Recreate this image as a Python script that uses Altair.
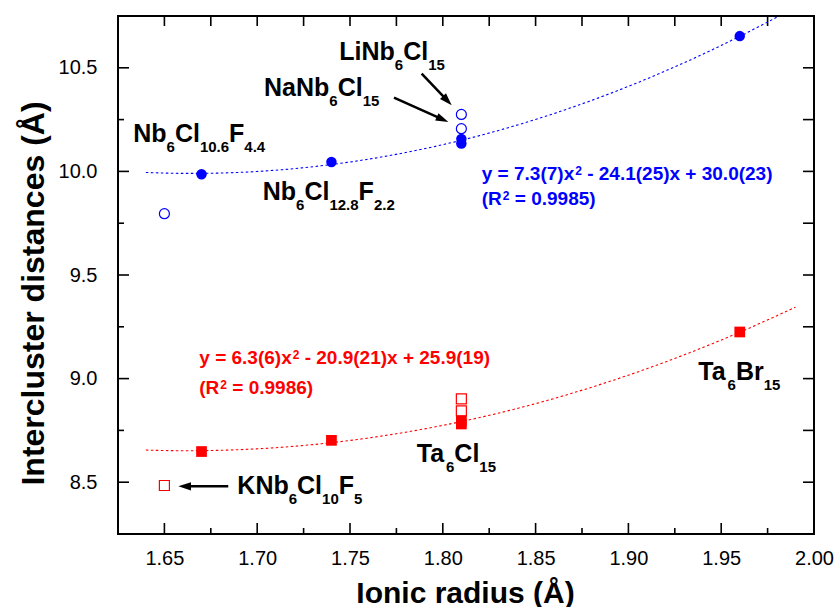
import math
import altair as alt
import pandas as pd

# ---------------- data ----------------
x_ticks_major = [1.65, 1.70, 1.75, 1.80, 1.85, 1.90, 1.95, 2.00]
x_ticks_minor = [1.675, 1.725, 1.775, 1.825, 1.875, 1.925, 1.975]
y_ticks_major = [8.5, 9.0, 9.5, 10.0, 10.5]
y_ticks_minor = [8.75, 9.25, 9.75, 10.25]

nb_fill_x = [1.67, 1.74, 1.81, 1.81, 1.96]
nb_fill_y = [9.986, 10.045, 10.157, 10.135, 10.653]
nb_open_x = [1.65, 1.81, 1.81]
nb_open_y = [9.796, 10.206, 10.275]

ta_fill_x = [1.67, 1.74, 1.81, 1.81, 1.96]
ta_fill_y = [8.648, 8.702, 8.796, 8.781, 9.225]
ta_open_x = [1.65, 1.81, 1.81]
ta_open_y = [8.484, 8.844, 8.902]

fit_extent = [1.64, 1.99]

# compound labels: (text, kind) m = normal, s = subscript
label_parts = [
    [("Nb", "m"), ("6", "s"), ("Cl", "m"), ("10.6", "s"), ("F", "m"), ("4.4", "s")],
    [("LiNb", "m"), ("6", "s"), ("Cl", "m"), ("15", "s")],
    [("NaNb", "m"), ("6", "s"), ("Cl", "m"), ("15", "s")],
    [("Nb", "m"), ("6", "s"), ("Cl", "m"), ("12.8", "s"), ("F", "m"), ("2.2", "s")],
    [("Ta", "m"), ("6", "s"), ("Cl", "m"), ("15", "s")],
    [("Ta", "m"), ("6", "s"), ("Br", "m"), ("15", "s")],
    [("KNb", "m"), ("6", "s"), ("Cl", "m"), ("10", "s"), ("F", "m"), ("5", "s")],
]
label_x = [1.6332, 1.7442, 1.7037, 1.7030, 1.7860, 1.9377, 1.6893]
label_y = [10.142, 10.536, 10.362, 9.864, 8.5975, 8.992, 8.445]

# fit equations: (text, kind) e = normal, p = superscript
eq_parts = [
    [("y = 7.3(7)x", "e"), ("2", "p"), (" - 24.1(25)x + 30.0(23)", "e")],
    [("(R", "e"), ("2", "p"), (" = 0.9985)", "e")],
    [("y = 6.3(6)x", "e"), ("2", "p"), (" - 20.9(21)x + 25.9(19)", "e")],
    [("(R", "e"), ("2", "p"), (" = 0.9986)", "e")],
]
eq_x = [1.821, 1.821, 1.6688, 1.6688]
eq_y = [9.957, 9.836, 9.0724, 8.928]
eq_color = ["#0000FF", "#0000FF", "#FF0000", "#FF0000"]

# arrows (tail -> head)
arrow_x1 = [1.7886, 1.7737, 1.6844]
arrow_y1 = [10.472, 10.356, 8.480]
arrow_x2 = [1.8048, 1.8030, 1.6575]
arrow_y2 = [10.319, 10.238, 8.480]

# ---------------- layout ----------------
W, H = 696, 518
XMIN, XMAX = 1.625, 2.00
YMIN, YMAX = 8.25, 10.75
SX = W / (XMAX - XMIN)
SY = H / (YMAX - YMIN)
FONT = "Liberation Sans"
BLUE = "#0000FF"
RED = "#FF0000"

ARIAL_BOLD = {
    "N": 722, "b": 611, "C": 722, "l": 278, "F": 611, "L": 611, "i": 278, "a": 556,
    "K": 722, "T": 611, "B": 722, "r": 389, ".": 278, " ": 278, "=": 584, "+": 584,
    "-": 333, "(": 333, ")": 333, "x": 556, "y": 556, "R": 722,
}
for d in "0123456789":
    ARIAL_BOLD[d] = 556

SIZES = {"m": 25, "s": 15, "e": 19, "p": 12}
SHIFT = {"m": 0, "s": 10, "e": 0, "p": -5}  # px, positive = down


def tw(s, size):
    return sum(ARIAL_BOLD.get(c, 556) for c in s) * size / 1000.0


def segments(parts_list, xs, ys, colors):
    rows = []
    for parts, x0, y0, col in zip(parts_list, xs, ys, colors):
        cur = 0.0
        for text, kind in parts:
            size = SIZES[kind]
            stripped = text.lstrip(" ")
            cur += tw(text[: len(text) - len(stripped)], size)
            if kind == "p":
                cur += 1.0
            rows.append({
                "x": x0 + cur / SX,
                "y": y0 - SHIFT[kind] / SY,
                "t": stripped,
                "kind": kind,
                "c": col,
            })
            cur += tw(stripped, size)
    return rows


text_rows = segments(label_parts, label_x, label_y, ["#000000"] * len(label_x))
text_rows += segments(eq_parts, eq_x, eq_y, eq_color)
df_text = pd.DataFrame(text_rows)

# arrows: shorten shaft, compute head angle
arr_rows = []
for x1, y1, x2, y2 in zip(arrow_x1, arrow_y1, arrow_x2, arrow_y2):
    dxp = (x2 - x1) * SX
    dyp = -(y2 - y1) * SY
    L = math.hypot(dxp, dyp)
    ang = math.degrees(math.atan2(dxp, -dyp)) % 360
    back = 7.0
    xe = x2 - (dxp / L) * back / SX
    ye = y2 + (dyp / L) * back / SY
    arr_rows.append({"x": x1, "y": y1, "x2": xe, "y2": ye, "hx": x2, "hy": y2, "ang": ang})
df_arr = pd.DataFrame(arr_rows)

df_nb_fill = pd.DataFrame({"x": nb_fill_x, "y": nb_fill_y})
df_nb_open = pd.DataFrame({"x": nb_open_x, "y": nb_open_y})
df_ta_fill = pd.DataFrame({"x": ta_fill_x, "y": ta_fill_y})
df_ta_open = pd.DataFrame({"x": ta_open_x, "y": ta_open_y})

x_scale = alt.Scale(domain=[XMIN, XMAX], nice=False, zero=False)
y_scale = alt.Scale(domain=[YMIN, YMAX], nice=False, zero=False)

x_axis = alt.Axis(
    values=x_ticks_major, format=".2f", ticks=False, domain=False, grid=False,
    labelFont=FONT, labelFontSize=20, labelPadding=14, labelColor="black",
    labelFlush=False, title="Ionic radius (Å)", titleFont=FONT, titleFontSize=30,
    titleFontWeight="bold", titleColor="black", titleX=W / 2 - 1, titleY=68,
    titleAlign="center", titleBaseline="alphabetic",
)
y_axis = alt.Axis(
    values=y_ticks_major, format=".1f", ticks=False, domain=False, grid=False,
    labelFont=FONT, labelFontSize=20, labelPadding=21, labelColor="black",
    labelFlush=False, title="Intercluster distances (Å)", titleFont=FONT,
    titleFontSize=32, titleFontWeight="bold", titleColor="black", titleAngle=270,
    titleX=-85, titleY=277, titleAlign="center", titleBaseline="middle",
)

X = alt.X("x:Q", scale=x_scale, axis=x_axis, title="Ionic radius (Å)")
Y = alt.Y("y:Q", scale=y_scale, axis=y_axis, title="Intercluster distances (Å)")

layers = []

# tick marks (inward)
df_xmaj = pd.DataFrame({"x": x_ticks_major})
df_xmin = pd.DataFrame({"x": x_ticks_minor})
df_ymaj = pd.DataFrame({"y": y_ticks_major})
df_ymin = pd.DataFrame({"y": y_ticks_minor})
tick_style = dict(color="black", strokeWidth=1.6)
layers += [
    alt.Chart(df_xmaj).mark_rule(**tick_style).encode(x=X, y=alt.value(H), y2=alt.value(H - 11)),
    alt.Chart(df_xmin).mark_rule(**tick_style).encode(x=X, y=alt.value(H), y2=alt.value(H - 6)),
    alt.Chart(df_xmaj).mark_rule(**tick_style).encode(x=X, y=alt.value(0), y2=alt.value(10)),
    alt.Chart(df_xmin).mark_rule(**tick_style).encode(x=X, y=alt.value(0), y2=alt.value(10)),
    alt.Chart(df_ymaj).mark_rule(**tick_style).encode(y=Y, x=alt.value(0), x2=alt.value(11)),
    alt.Chart(df_ymin).mark_rule(**tick_style).encode(y=Y, x=alt.value(0), x2=alt.value(6)),
    alt.Chart(df_ymaj).mark_rule(**tick_style).encode(y=Y, x=alt.value(W), x2=alt.value(W - 11)),
    alt.Chart(df_ymin).mark_rule(**tick_style).encode(y=Y, x=alt.value(W), x2=alt.value(W - 11)),
]

# fit curves
for df, col in [(df_nb_fill, BLUE), (df_ta_fill, RED)]:
    layers.append(
        alt.Chart(df)
        .transform_regression("x", "y", method="poly", order=2, extent=fit_extent)
        .mark_line(color=col, strokeWidth=1.1, strokeDash=[2.5, 2.5], clip=True)
        .encode(x=X, y=Y)
    )

# points
layers += [
    alt.Chart(df_nb_open).mark_point(shape="circle", filled=False, size=100, color=BLUE,
                                     strokeWidth=1.2, opacity=1).encode(x=X, y=Y),
    alt.Chart(df_ta_open).mark_point(shape="square", filled=False, size=100, color=RED,
                                     strokeWidth=1.2, opacity=1).encode(x=X, y=Y),
    alt.Chart(df_nb_fill).mark_point(shape="circle", filled=True, size=110, color=BLUE,
                                     opacity=1).encode(x=X, y=Y),
    alt.Chart(df_ta_fill).mark_point(shape="square", filled=True, size=115, color=RED,
                                     opacity=1).encode(x=X, y=Y),
]

# arrows
layers += [
    alt.Chart(df_arr).mark_rule(color="black", strokeWidth=2.5).encode(
        x=X, y=Y, x2="x2:Q", y2="y2:Q"),
    alt.Chart(df_arr).mark_point(shape="M0,0L0.42,1.3L-0.42,1.3Z", filled=True, size=380,
                                 color="black", opacity=1, strokeWidth=0).encode(
        x=alt.X("hx:Q", scale=x_scale, axis=x_axis, title="Ionic radius (Å)"),
        y=alt.Y("hy:Q", scale=y_scale, axis=y_axis, title="Intercluster distances (Å)"),
        angle=alt.Angle("ang:Q", scale=None)),
]

# texts
for kind in ["m", "s", "e", "p"]:
    layers.append(
        alt.Chart(df_text).transform_filter(alt.datum.kind == kind)
        .mark_text(align="left", baseline="alphabetic", font=FONT, fontWeight="bold",
                   fontSize=SIZES[kind])
        .encode(x=X, y=Y, text="t:N", color=alt.Color("c:N", scale=None))
    )

chart = (
    alt.layer(*layers)
    .properties(width=W, height=H, autosize=alt.AutoSizeParams(type="none"),
                padding={"left": 118, "top": 16, "right": 25, "bottom": 73},
                background="white")
    .configure_view(stroke="black", strokeWidth=2)
)

chart.save("out.html", embed_options={"renderer": "svg", "actions": False})
